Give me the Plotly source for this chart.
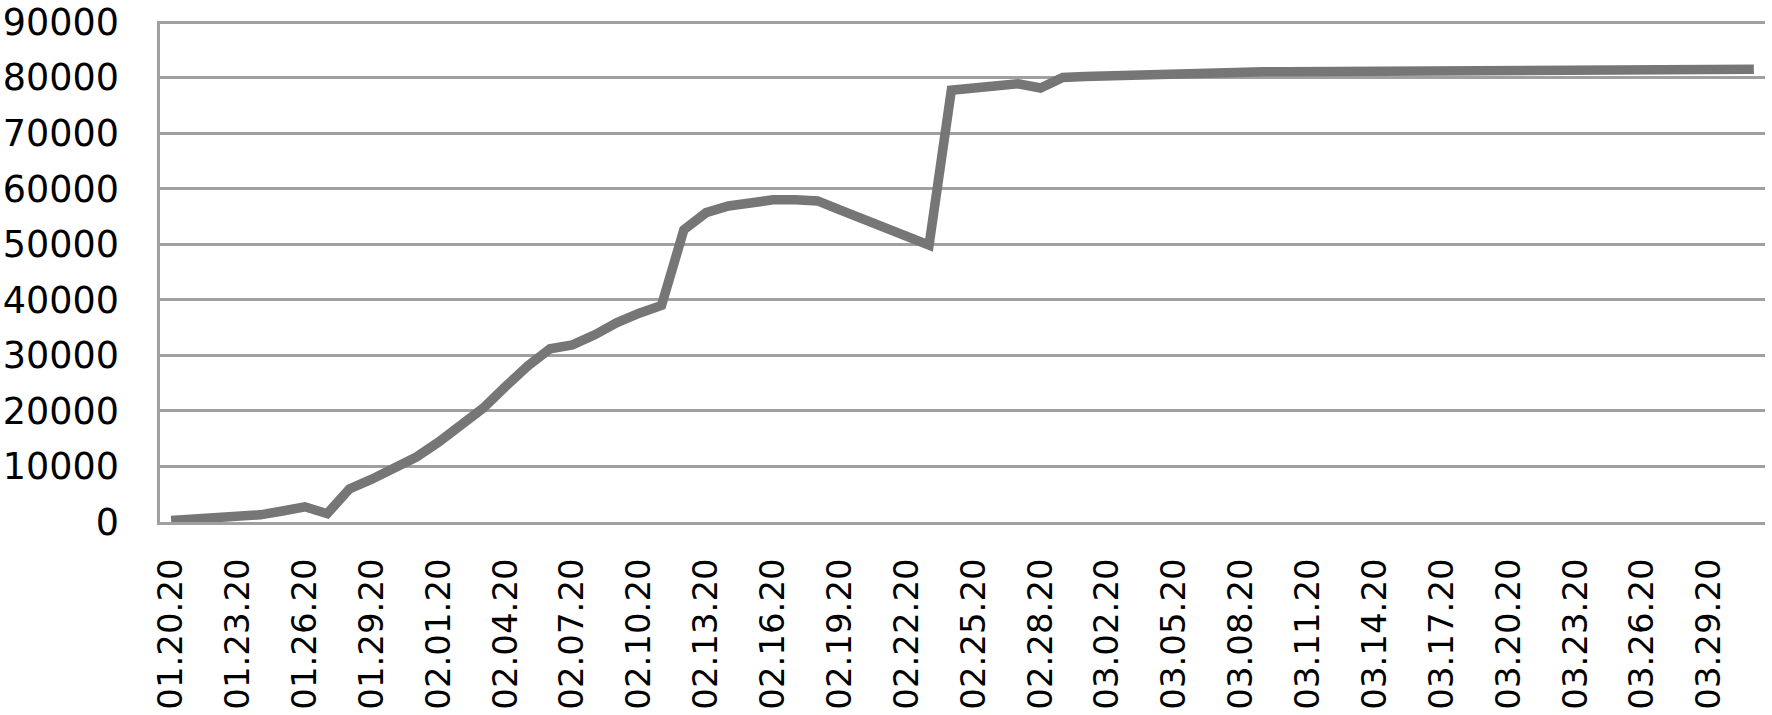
import plotly.graph_objects as go
import datetime as dt

# Dates 01.20.20 .. 03.31.20 (daily)
start = dt.date(2020, 1, 20)
dates = [(start + dt.timedelta(days=i)).strftime("%m.%d.%y") for i in range(72)]

# Cumulative values
values = [
    290, 440, 580, 830, 1290, 1980, 2740, 1500, 5970, 7710,
    9600, 11700, 14400, 17300, 20500, 24400, 28100, 31200, 31900, 33700,
    35900, 37600, 39000, 52600, 55700, 56900, 57500, 58000, 58000, 57800,
    56200, 54600, 52850, 51150, 49850, 77750, 78200, 78600, 78900, 78150,
    80030, 80200, 80350, 80500, 80650, 80750, 80850, 80950, 81000, 81050,
    81080, 81120, 81150, 81170, 81190, 81210, 81230, 81260, 81280, 81300,
    81320, 81340, 81350, 81370, 81390, 81410, 81430, 81450, 81470, 81490,
    81510, 81530,
]

tick_dates = dates[::3]
y_ticks = list(range(0, 90001, 10000))

fig = go.Figure()
fig.add_trace(go.Scatter(
    x=dates, y=values, mode="lines",
    line=dict(color="#767676", width=9.5),
    showlegend=False, hoverinfo="skip",
))

xfont = dict(family="DejaVu Sans", size=34, color="#000000")
yfont = dict(family="DejaVu Sans", size=36.5, color="#000000")

fig.update_layout(
    width=1772, height=715,
    margin=dict(l=160, r=7, t=21, b=193, pad=0),
    paper_bgcolor="white", plot_bgcolor="white",
    xaxis=dict(
        type="category", range=[-0.5, 71.5], automargin=False,
        tickmode="array", tickvals=tick_dates, ticktext=tick_dates,
        tickangle=-90, tickfont=xfont,
        showgrid=False, zeroline=False,
        showline=True, linecolor="#a0a0a0", linewidth=2.5,
        ticks="outside", ticklen=20, tickcolor="rgba(0,0,0,0)",
    ),
    yaxis=dict(
        range=[0, 90200], automargin=False,
        tickmode="array", tickvals=y_ticks,
        ticktext=[str(v) for v in y_ticks], tickfont=yfont,
        showgrid=True, gridcolor="#a0a0a0", gridwidth=2.5,
        zeroline=False,
        showline=True, linecolor="#a0a0a0", linewidth=2.5,
        ticks="outside", ticklen=31, tickcolor="rgba(0,0,0,0)",
    ),
)

fig.write_html(
    "out.html",
    config={"displayModeBar": False},
    post_script="document.body.style.margin='0px';document.body.style.overflow='hidden';",
)
